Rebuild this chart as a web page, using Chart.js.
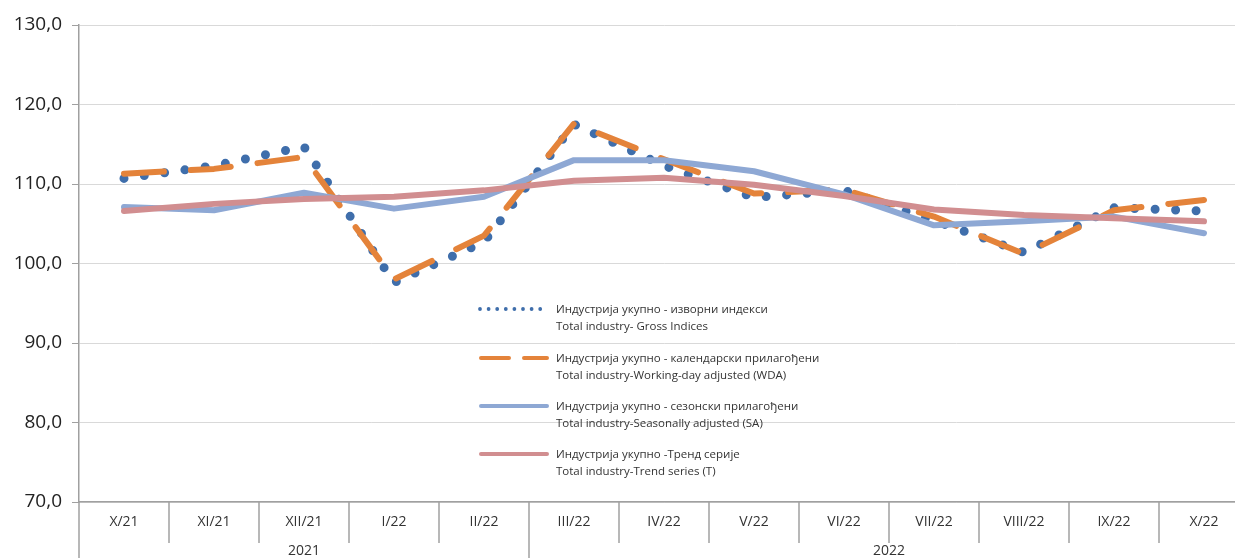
<!DOCTYPE html>
<html>
<head>
<meta charset="utf-8">
<script src="https://cdn.jsdelivr.net/npm/chart.js@4.4.1/dist/chart.umd.min.js"></script>
<style>
  html, body { margin: 0; padding: 0; background: #fff; overflow: hidden; }
  #wrap { position: relative; width: 1235px; height: 558px; overflow: hidden; }
  canvas { position: absolute; left: 0; top: 0; }
  .lg { position: absolute; font-family: 'Open Sans', sans-serif; font-size: 11.5px; color: #333; line-height: 16.5px; white-space: nowrap; }
  .lg svg { position: absolute; left: 0; top: 3px; }
  .lg .t { position: absolute; left: 79px; top: -1px; }
</style>
</head>
<body>
<div id="wrap">
  <canvas id="c" width="1249" height="558"></canvas>
  <div id="legend"></div>
</div>
<script>
// ---- data ----
const categories = ['X/21','XI/21','XII/21','I/22','II/22','III/22','IV/22','V/22','VI/22','VII/22','VIII/22','IX/22','X/22'];
const years = ['2021', '2022'];
const yearSpans = [5, 8];
const grossIndices       = [110.7, 112.3, 114.7, 97.6, 102.7, 117.5, 112.3, 108.3, 109.2, 105.4, 101.4, 107.0, 106.6];
const workingDayAdjusted = [111.3, 111.9, 113.4, 98.0, 103.5, 117.6, 113.1, 108.8, 109.3, 105.9, 101.2, 106.7, 108.0];
const seasonallyAdjusted = [107.1, 106.7, 108.9, 106.9, 108.4, 113.0, 113.0, 111.6, 108.7, 104.8, 105.3, 105.9, 103.8];
const trendSeries        = [106.6, 107.5, 108.1, 108.4, 109.2, 110.4, 110.8, 109.9, 108.5, 106.8, 106.1, 105.7, 105.3];
const yTickValues = [70, 80, 90, 100, 110, 120, 130];
const yTickLabels = ['70,0', '80,0', '90,0', '100,0', '110,0', '120,0', '130,0'];
const legendLabels = [
  ['Индустрија укупно - изворни индекси', 'Total industry- Gross Indices'],
  ['Индустрија укупно - календарски прилагођени', 'Total industry-Working-day adjusted (WDA)'],
  ['Индустрија укупно - сезонски прилагођени', 'Total industry-Seasonally adjusted (SA)'],
  ['Индустрија укупно -Тренд серије', 'Total industry-Trend series (T)']
];

const C_GROSS = '#3F6EAB';
const C_WDA = '#E4833A';
const C_SA = '#8EA8D4';
const C_T = '#D18E90';
const AXIS = '#A0A0A0';

Chart.defaults.font.family = "'Open Sans', sans-serif";

const axisDecor = {
  id: 'axisDecor',
  afterDraw(chart) {
    const { ctx, chartArea, scales: { x } } = chart;
    const n = categories.length;
    const half = (x.getPixelForValue(1) - x.getPixelForValue(0)) / 2;
    const bottom = chartArea.bottom;
    const bounds = [0];
    let acc = 0;
    yearSpans.forEach(s => { acc += s; bounds.push(acc); });
    ctx.save();
    ctx.strokeStyle = AXIS;
    ctx.lineWidth = 1.5;
    for (let i = 0; i <= n; i++) {
      const px = x.getPixelForValue(i) - half;
      const isYear = bounds.includes(i);
      ctx.beginPath();
      ctx.moveTo(px, bottom);
      ctx.lineTo(px, isYear ? chart.height : bottom + 41);
      ctx.stroke();
    }
    ctx.fillStyle = '#333';
    ctx.font = "14px 'Open Sans', sans-serif";
    ctx.textAlign = 'center';
    ctx.textBaseline = 'middle';
    let start = 0;
    years.forEach((yr, k) => {
      const end = start + yearSpans[k];
      const l = x.getPixelForValue(start) - half;
      const r = x.getPixelForValue(end) - half;
      ctx.fillText(yr, (l + r) / 2, bottom + 49);
      start = end;
    });
    ctx.restore();
  }
};

new Chart(document.getElementById('c'), {
  type: 'line',
  data: {
    labels: categories,
    datasets: [
      { label: legendLabels[0].join(' '), data: grossIndices, borderColor: C_GROSS, borderWidth: 9,
        borderDash: [0, 20.5], borderCapStyle: 'round', borderJoinStyle: 'round', order: 4 },
      { label: legendLabels[1].join(' '), data: workingDayAdjusted, borderColor: C_WDA, borderWidth: 6,
        borderDash: [40, 27], borderCapStyle: 'round', borderJoinStyle: 'round', order: 3 },
      { label: legendLabels[2].join(' '), data: seasonallyAdjusted, borderColor: C_SA, borderWidth: 6,
        borderCapStyle: 'round', borderJoinStyle: 'round', order: 2 },
      { label: legendLabels[3].join(' '), data: trendSeries, borderColor: C_T, borderWidth: 6,
        borderCapStyle: 'round', borderJoinStyle: 'round', order: 1 }
    ]
  },
  options: {
    responsive: false,
    animation: false,
    devicePixelRatio: 1,
    layout: { padding: { top: 25, left: 0, right: 0, bottom: 0 } },
    elements: { point: { radius: 0, hoverRadius: 0 }, line: { tension: 0, fill: false } },
    plugins: { legend: { display: false }, tooltip: { enabled: false } },
    scales: {
      x: {
        type: 'category',
        offset: true,
        grid: { display: false, drawTicks: false },
        border: { display: true, color: AXIS, width: 1.5 },
        ticks: { color: '#333', font: { size: 14 }, padding: 12, maxRotation: 0, autoSkip: false },
        afterFit(scale) { scale.height = 56; }
      },
      y: {
        min: 70, max: 130,
        afterBuildTicks(scale) { scale.ticks = yTickValues.map(v => ({ value: v })); },
        grid: { color: '#D9D9D9', lineWidth: 1, tickLength: 7, tickColor: AXIS, drawTicks: true },
        border: { display: true, color: AXIS, width: 1.5 },
        ticks: {
          color: '#222', font: { size: 19 }, padding: 10,
          callback: (v) => yTickLabels[yTickValues.indexOf(v)]
        },
        afterFit(scale) { scale.width = 79; }
      }
    }
  },
  plugins: [axisDecor]
});

// ---- legend (HTML overlay) ----
const legendTops = [309, 358, 406, 454];
const samples = [
  '<svg width="72" height="8"><line x1="3" y1="4" x2="71" y2="4" stroke="' + C_GROSS + '" stroke-width="3.8" stroke-linecap="round" stroke-dasharray="0 8.6"/></svg>',
  '<svg width="72" height="8"><line x1="4" y1="4" x2="70" y2="4" stroke="' + C_WDA + '" stroke-width="4" stroke-linecap="round" stroke-dasharray="28 15"/></svg>',
  '<svg width="72" height="8"><line x1="4" y1="4" x2="70" y2="4" stroke="' + C_SA + '" stroke-width="4" stroke-linecap="round"/></svg>',
  '<svg width="72" height="8"><line x1="4" y1="4" x2="70" y2="4" stroke="' + C_T + '" stroke-width="4" stroke-linecap="round"/></svg>'
];
const lg = document.getElementById('legend');
legendLabels.forEach((lines, i) => {
  const d = document.createElement('div');
  d.className = 'lg';
  d.style.left = '477px';
  d.style.top = (legendTops[i] - 7) + 'px';
  d.innerHTML = samples[i] + '<div class="t">' + lines[0] + '<br>' + lines[1] + '</div>';
  lg.appendChild(d);
});
</script>
</body>
</html>
